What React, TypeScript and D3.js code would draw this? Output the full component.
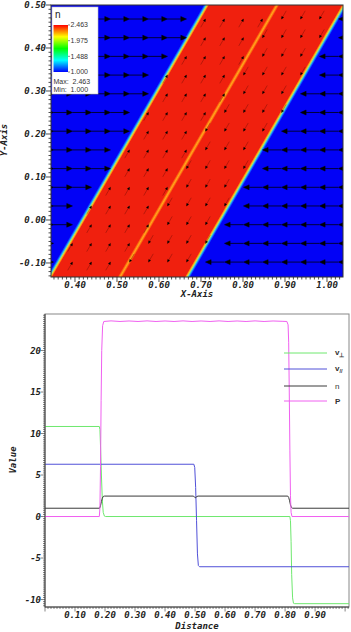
import React from "react";
import * as d3 from "d3";

// ---------------- top plot: pseudocolor of n + velocity vectors ----------------
const topXTicks = [0.4, 0.5, 0.6, 0.7, 0.8, 0.9, 1.0];
const topYTicks = [-0.1, 0.0, 0.1, 0.2, 0.3, 0.4, 0.5];
const topXDomain = [0.3429, 1.0381];
const topYDomain = [-0.1326, 0.5];
// x-intercepts (at y = 0) of left shock, contact, right shock
const bandEdges = [0.4188, 0.5855, 0.745];
const bandDxPerDy = 0.591;
// vector glyph sample grid
const gridX = [0.3488, 0.394, 0.4393, 0.4845, 0.5298, 0.575, 0.6202, 0.6655, 0.7107, 0.756, 0.8012, 0.8464, 0.8917, 0.9369, 0.9821, 1.0274];
const gridY = [0.4674, 0.424, 0.3805, 0.337, 0.2935, 0.25, 0.2065, 0.163, 0.1195, 0.076, 0.0326, -0.0109, -0.0544, -0.0979];
// speed and direction in each zone: left state, left half band, right half band, right state
const zoneSpeed = [12.4, 6.2, 6.2, 12.2];
const zoneDir = ["right", "up", "down", "left"];
const colorbarLabels = ["2.463", "1.975", "1.488", "1.000"];
const legendMax = "Max:  2.463";
const legendMin = "Min:  1.000";

// ---------------- bottom plot: line-out ----------------
const botXTicks = [0.1, 0.2, 0.3, 0.4, 0.5, 0.6, 0.7, 0.8, 0.9];
const botYTicks = [-10, -5, 0, 5, 10, 15, 20];
const botXDomain = [0, 1.013];
const botYDomain = [-10.9, 24.4];

const vPerp: [number, number][] = [
  [0, 10.85], [0.181, 10.85], [0.183, 10.5], [0.185, 8.5], [0.188, 5], [0.191, 2], [0.194, 0.5], [0.198, 0.05], [0.202, 0],
  [0.816, 0], [0.818, -0.5], [0.82, -3], [0.822, -7], [0.825, -9.8], [0.828, -10.45], [0.832, -10.5], [1.013, -10.5],
];
const vPar: [number, number][] = [
  [0, 6.3], [0.496, 6.3], [0.499, 5.9], [0.502, 3.5], [0.505, -0.5], [0.508, -4.5], [0.511, -5.9], [0.515, -6.05], [1.013, -6.05],
];
const nLine: [number, number][] = [
  [0, 1.0], [0.182, 1.0], [0.185, 1.3], [0.188, 1.8], [0.191, 2.2], [0.194, 2.42], [0.198, 2.463],
  [0.495, 2.463], [0.499, 2.3], [0.502, 2.25], [0.505, 2.4], [0.51, 2.463],
  [0.809, 2.463], [0.812, 2.3], [0.815, 1.9], [0.818, 1.4], [0.821, 1.1], [0.825, 1.0], [1.013, 1.0],
];
const pLine: [number, number][] = [
  [0, 0], [0.181, 0], [0.183, 1], [0.185, 6], [0.187, 14], [0.189, 20], [0.192, 23], [0.196, 23.5],
  [0.22, 23.57], [0.25, 23.5], [0.28, 23.56], [0.31, 23.5], [0.34, 23.57], [0.37, 23.5], [0.4, 23.56], [0.43, 23.5],
  [0.46, 23.57], [0.49, 23.5], [0.52, 23.56], [0.55, 23.5], [0.58, 23.57], [0.61, 23.5], [0.64, 23.56], [0.67, 23.5],
  [0.7, 23.57], [0.73, 23.5], [0.76, 23.56], [0.79, 23.52], [0.806, 23.5], [0.81, 23.1], [0.812, 21], [0.814, 15],
  [0.816, 8], [0.818, 2.5], [0.82, 0.5], [0.823, 0], [1.013, 0],
];
const seriesNames = ["v_perp", "v_par", "n", "P"];
const seriesColors = ["#6ee86e", "#5050d8", "#3a3a3a", "#f060f0"];

const monoFont = "'DejaVu Sans Mono', monospace";
const sansFont = "'Liberation Sans', Arial, sans-serif";

export default function App() {
  // ---------- top plot scales ----------
  const tx = d3.scaleLinear().domain(topXDomain).range([51, 343]);
  const ty = d3.scaleLinear().domain(topYDomain).range([277, 5]);
  const tL = 51, tR = 343, tT = 5, tB = 277;

  // band direction in pixel space
  const a0 = [tx(bandEdges[0]), ty(0)];
  const a1 = [tx(bandEdges[0] + bandDxPerDy * 0.4), ty(0.4)];
  const dl = Math.hypot(a1[0] - a0[0], a1[1] - a0[1]);
  const dir = [(a1[0] - a0[0]) / dl, (a1[1] - a0[1]) / dl]; // up-right
  const nrm = [-dir[1], dir[0]]; // right-down normal
  const dM = (tx(bandEdges[1]) - a0[0]) * nrm[0];
  const dW = (tx(bandEdges[2]) - a0[0]) * nrm[0];
  const pad = 8;
  const total = dW + 2 * pad;
  const O = [a0[0] - pad * nrm[0], a0[1] - pad * nrm[1]];
  const E = [a0[0] + (dW + pad) * nrm[0], a0[1] + (dW + pad) * nrm[1]];
  const blue = "#0202f6";
  const red = "#f0200e";
  const stops: [number, string][] = [
    [-3, blue], [-1.9, "#1060ff"], [-1.0, "#30c8e8"], [0, "#c8e050"], [0.9, "#ffa010"], [2.0, red],
    [dM - 2.2, red], [dM - 0.9, "#ff7a10"], [dM, "#ffa820"], [dM + 0.9, "#ff7a10"], [dM + 2.2, red],
    [dW - 2.0, red], [dW - 0.9, "#ffa010"], [dW, "#c8e050"], [dW + 1.0, "#30c8e8"], [dW + 1.9, "#1060ff"], [dW + 3, blue],
  ];

  // glyphs
  const pxPerSpeed = 19 / 12.4;
  const strongLines: string[] = [];
  const strongHeads: string[] = [];
  const weakLines: string[] = [];
  const weakHeads: string[] = [];
  gridY.forEach((gy) => {
    gridX.forEach((gx) => {
      const s = gx - bandDxPerDy * gy;
      const zone = d3.bisect(bandEdges, s);
      const kind = zoneDir[zone];
      let d: number[];
      if (kind === "right") d = [1, 0];
      else if (kind === "left") d = [-1, 0];
      else if (kind === "up") d = dir;
      else d = [-dir[0], -dir[1]];
      const len = zoneSpeed[zone] * pxPerSpeed;
      const hx = tx(gx), hy = ty(gy);
      const tailx = hx - d[0] * len, taily = hy - d[1] * len;
      const weak = kind === "up" || kind === "down";
      const hl = weak ? 2.4 : len * 0.3;
      const hw = weak ? 1.1 : len * 0.13;
      const bx = hx - d[0] * hl, by = hy - d[1] * hl;
      const px = -d[1], py = d[0];
      const ln = `M${tailx},${taily}L${bx},${by}`;
      const hd = `M${hx},${hy}L${bx + px * hw},${by + py * hw}L${bx - px * hw},${by - py * hw}Z`;
      if (weak) {
        weakLines.push(ln);
        weakHeads.push(hd);
      } else {
        strongLines.push(ln);
        strongHeads.push(hd);
      }
    });
  });

  const topMinorY = d3.range(-13, 51).map((i) => i / 100);
  const topMinorX = d3.range(35, 104).map((i) => i / 100);

  // ---------- bottom plot scales ----------
  const bx = d3.scaleLinear().domain(botXDomain).range([45, 349]);
  const by = d3.scaleLinear().domain(botYDomain).range([607, 314]);
  const line = d3.line<[number, number]>().x((d) => bx(d[0])).y((d) => by(d[1]));
  const series = [vPerp, vPar, nLine, pLine];
  const botMinorY = d3.range(-43, 98).map((i) => i * 0.25);
  const botMinorX = d3.range(0, 102).map((i) => i / 100);

  const legendY = [353, 369, 386, 401];

  return (
    <svg width={351} height={632} style={{ position: "absolute", left: 0, top: 0, background: "#fff" }}>
      <defs>
        <clipPath id="topClip">
          <rect x={tL} y={tT} width={tR - tL} height={tB - tT} />
        </clipPath>
        <linearGradient id="bandGrad" gradientUnits="userSpaceOnUse" x1={O[0]} y1={O[1]} x2={E[0]} y2={E[1]}>
          {stops.map(([d, c], i) => (
            <stop key={i} offset={(d + pad) / total} stopColor={c} />
          ))}
        </linearGradient>
        <linearGradient id="cbGrad" x1="0" y1="0" x2="0" y2="1">
          <stop offset="0" stopColor="#ff0000" />
          <stop offset="0.25" stopColor="#ffff00" />
          <stop offset="0.5" stopColor="#00ff00" />
          <stop offset="0.75" stopColor="#00ffff" />
          <stop offset="1" stopColor="#0000ff" />
        </linearGradient>
        <clipPath id="botClip">
          <rect x={45} y={314} width={304} height={293} />
        </clipPath>
      </defs>

      {/* ----- top plot ----- */}
      <rect x={tL} y={tT} width={tR - tL} height={tB - tT} fill="url(#bandGrad)" />
      <g clipPath="url(#topClip)">
        <path d={weakLines.join("")} fill="none" stroke="#200000" strokeWidth={0.6} strokeOpacity={0.45} />
        <path d={weakHeads.join("")} fill="#000" stroke="#000" strokeWidth={0.4} />
        <path d={strongLines.join("")} fill="none" stroke="#000" strokeWidth={0.9} strokeOpacity={0.85} />
        <path d={strongHeads.join("")} fill="#000" stroke="#000" strokeWidth={0.5} />
      </g>
      <rect x={tL} y={tT} width={tR - tL} height={tB - tT} fill="none" stroke="#333" strokeWidth={1} />
      {/* ticks */}
      {topMinorY.map((v, i) => {
        const major = Math.round(v * 100) % 10 === 0;
        return <line key={"ty" + i} x1={tL - (major ? 5 : 2.5)} x2={tL} y1={ty(v)} y2={ty(v)} stroke="#222" strokeWidth={0.8} />;
      })}
      {topMinorX.map((v, i) => {
        const major = Math.round(v * 100) % 10 === 0;
        return <line key={"tx" + i} y1={tB} y2={tB + (major ? 5 : 2.5)} x1={tx(v)} x2={tx(v)} stroke="#222" strokeWidth={0.8} />;
      })}
      {topYTicks.map((v) => (
        <text key={"tyl" + v} x={46} y={ty(v) + 3} textAnchor="end" fontFamily={monoFont} fontWeight="bold" fontStyle="italic" fontSize={9} fill="#222">
          {v.toFixed(2)}
        </text>
      ))}
      {topXTicks.map((v) => (
        <text key={"txl" + v} x={tx(v)} y={288} textAnchor="middle" fontFamily={monoFont} fontWeight="bold" fontStyle="italic" fontSize={9} fill="#222">
          {v.toFixed(2)}
        </text>
      ))}
      <text x={197} y={297} textAnchor="middle" fontFamily={monoFont} fontWeight="bold" fontStyle="italic" fontSize={9} fill="#222">
        X-Axis
      </text>
      <text transform="translate(7,140) rotate(-90)" textAnchor="middle" fontFamily={monoFont} fontWeight="bold" fontStyle="italic" fontSize={9} fill="#222">
        Y-Axis
      </text>

      {/* legend box */}
      <rect x={52} y={7} width={46} height={87} fill="#fff" stroke="#bbb" strokeWidth={0.6} />
      <text x={55} y={18} fontFamily={sansFont} fontSize={10} fill="#222">n</text>
      <rect x={53.5} y={25} width={14.5} height={47} fill="url(#cbGrad)" />
      {colorbarLabels.map((l, i) => {
        const yy = 25 + (i * 47) / 3;
        return (
          <g key={l}>
            <line x1={68} x2={70} y1={yy} y2={yy} stroke="#444" strokeWidth={0.6} />
            <text x={70.5} y={yy + 2.4} fontFamily={sansFont} fontSize={7} fill="#333">{l}</text>
          </g>
        );
      })}
      <text x={53.5} y={83.5} fontFamily={sansFont} fontSize={7} fill="#333" xmlSpace="preserve">{legendMax}</text>
      <text x={53.5} y={91.5} fontFamily={sansFont} fontSize={7} fill="#333" xmlSpace="preserve">{legendMin}</text>

      {/* ----- bottom plot ----- */}
      <rect x={45} y={314} width={304} height={293} fill="#fff" stroke="#888" strokeWidth={1} />
      <g clipPath="url(#botClip)">
        {series.map((s, i) => (
          <path key={seriesNames[i]} d={line(s) || ""} fill="none" stroke={seriesColors[i]} strokeWidth={1} />
        ))}
      </g>
      <line x1={45} x2={45} y1={314} y2={607} stroke="#444" strokeWidth={1} />
      <line x1={45} x2={349} y1={607} y2={607} stroke="#444" strokeWidth={1} />
      {botMinorY.map((v, i) => {
        const major = Math.round(v * 4) % 20 === 0;
        return <line key={"by" + i} x1={45 - (major ? 4.5 : 2)} x2={45} y1={by(v)} y2={by(v)} stroke="#333" strokeWidth={0.6} />;
      })}
      {botMinorX.map((v, i) => {
        const major = i % 10 === 0;
        return <line key={"bx" + i} y1={607} y2={607 + (major ? 4.5 : 2)} x1={bx(v)} x2={bx(v)} stroke="#333" strokeWidth={0.6} />;
      })}
      {botYTicks.map((v) => (
        <text key={"byl" + v} x={41} y={by(v) + 3} textAnchor="end" fontFamily={monoFont} fontWeight="bold" fontStyle="italic" fontSize={9} fill="#222">
          {v}
        </text>
      ))}
      {botXTicks.map((v) => (
        <text key={"bxl" + v} x={bx(v)} y={618} textAnchor="middle" fontFamily={monoFont} fontWeight="bold" fontStyle="italic" fontSize={9} fill="#222">
          {v.toFixed(2)}
        </text>
      ))}
      <text x={197} y={629} textAnchor="middle" fontFamily={monoFont} fontWeight="bold" fontStyle="italic" fontSize={9} fill="#222">
        Distance
      </text>
      <text transform="translate(16,460) rotate(-90)" textAnchor="middle" fontFamily={monoFont} fontWeight="bold" fontStyle="italic" fontSize={9} fill="#222">
        Value
      </text>

      {/* line legend */}
      {seriesNames.map((nm, i) => (
        <line key={"lg" + nm} x1={284} x2={327} y1={legendY[i]} y2={legendY[i]} stroke={seriesColors[i]} strokeWidth={1} />
      ))}
      <text x={335} y={legendY[0] + 2} fontFamily={sansFont} fontWeight="bold" fontSize={8} fill="#333">
        v<tspan fontSize={6} dy={1.5}>⊥</tspan>
      </text>
      <text x={335} y={legendY[1] + 2} fontFamily={sansFont} fontWeight="bold" fontSize={8} fill="#333">
        v<tspan fontSize={5.5} dy={2}>//</tspan>
      </text>
      <text x={335} y={legendY[2] + 3} fontFamily={sansFont} fontSize={8} fill="#333">n</text>
      <text x={335} y={legendY[3] + 3} fontFamily={sansFont} fontWeight="bold" fontSize={8} fill="#333">P</text>
    </svg>
  );
}
